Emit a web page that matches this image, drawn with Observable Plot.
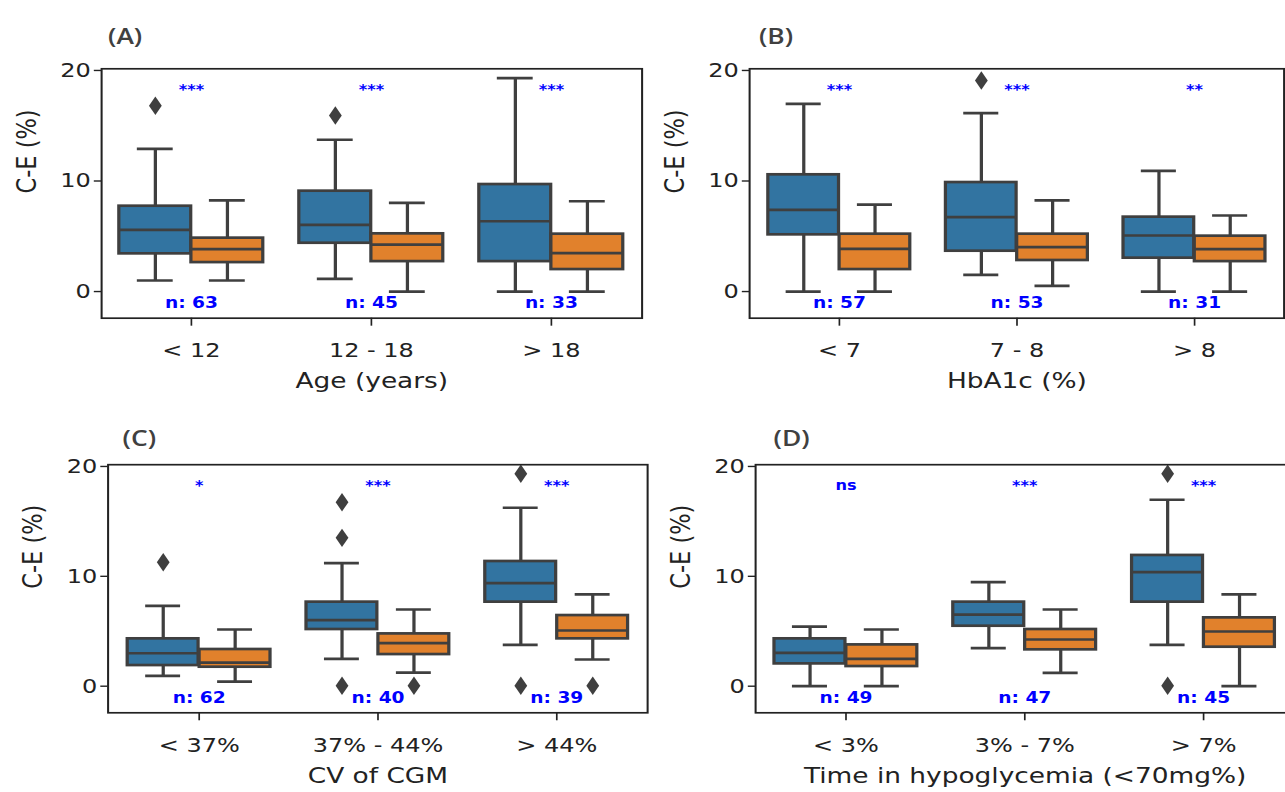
<!DOCTYPE html>
<html><head><meta charset="utf-8">
<script src="https://cdn.jsdelivr.net/npm/d3@7"></script>
<script src="https://cdn.jsdelivr.net/npm/@observablehq/plot@0.6"></script>
<style>
html,body{margin:0;padding:0;background:#fff;width:1285px;height:792px;overflow:hidden;}
#root{position:relative;width:1285px;height:792px;overflow:hidden;background:#fff;}
.panel{position:absolute;transform-origin:0 0;}
</style></head><body>
<div id="root"></div>
<script>
// ---- data (five-number summaries per category: [low whisker, Q1, median, Q3, high whisker]) ----
const ageCategories = ["< 12", "12 - 18", "> 18"];
const ageBlue   = [[1.0, 3.41, 5.58, 7.72, 12.9], [1.15, 4.37, 6.03, 9.08, 13.73], [0, 2.71, 6.36, 9.68, 19.3]];
const ageOrange = [[1.0, 2.62, 3.83, 4.83, 8.24], [0, 2.71, 4.25, 5.22, 8.02], [0, 1.99, 3.47, 5.19, 8.17]];
const ageBlueOutliers = [["< 12", 16.8], ["12 - 18", 15.93]];
const ageOrangeOutliers = [];
const ageSig = ["***", "***", "***"];
const ageN = [63, 45, 33];

const hba1cCategories = ["< 7", "7 - 8", "> 8"];
const hba1cBlue   = [[0, 5.13, 7.39, 10.56, 16.98], [1.51, 3.65, 6.73, 9.86, 16.14], [0, 3.02, 5.07, 6.73, 10.92]];
const hba1cOrange = [[0, 1.99, 3.86, 5.19, 7.87], [0.51, 2.81, 4.01, 5.19, 8.24], [0, 2.71, 3.83, 5.01, 6.88]];
const hba1cBlueOutliers = [["7 - 8", 19.1]];
const hba1cOrangeOutliers = [];
const hba1cSig = ["***", "***", "**"];
const hba1cN = [57, 53, 31];

const cvCategories = ["< 37%", "37% - 44%", "> 44%"];
const cvBlue   = [[0.94, 1.88, 3.0, 4.31, 7.31], [2.49, 5.16, 6.01, 7.65, 11.2], [3.76, 7.65, 9.38, 11.35, 16.24]];
const cvOrange = [[0.42, 1.73, 2.15, 3.34, 5.16], [1.24, 2.88, 3.92, 4.76, 6.98], [2.43, 4.31, 5.07, 6.43, 8.35]];
const cvBlueOutliers = [["< 37%", 11.29], ["37% - 44%", 16.75], ["37% - 44%", 13.5], ["37% - 44%", 0.05], ["> 44%", 19.33], ["> 44%", 0.05]];
const cvOrangeOutliers = [["37% - 44%", 0.05], ["> 44%", 0.05]];
const cvSig = ["*", "***", "***"];
const cvN = [62, 40, 39];

const hypoCategories = ["< 3%", "3% - 7%", "> 7%"];
const hypoBlue   = [[0, 2.03, 3.03, 4.31, 5.43], [3.46, 5.46, 6.52, 7.65, 9.47], [3.76, 7.65, 10.38, 11.9, 16.97]];
const hypoOrange = [[0, 1.79, 2.49, 3.76, 5.16], [1.21, 3.31, 4.25, 5.16, 6.98], [0, 3.55, 4.98, 6.22, 8.35]];
const hypoBlueOutliers = [["> 7%", 19.33], ["> 7%", 0.05]];
const hypoOrangeOutliers = [];
const hypoSig = ["ns", "***", "***"];
const hypoN = [49, 47, 45];

const yTicks = [0, 10, 20];
const yLabel = "C-E (%)";

// ---- style ----
const S = 1.2;               // the reference figure is stretched horizontally
const BLUE = "#3274a1", ORANGE = "#e1812c", LINE = "#3f3f3f", TEXT = "#222222";
const LW = 2.7;

function drawPanel(cfg) {
  const {cats, blue, orange, blueOut, orangeOut, sig, n, xLabel, tag, tagDx, tagDy,
         left, top, width, height, mL, mR, mT, mB, yDomain} = cfg;
  const W = (width - mL - mR) / cats.length;
  const rowsB = cats.map((c, i) => ({cat: c, s: blue[i]}));
  const rowsO = cats.map((c, i) => ({cat: c, s: orange[i]}));
  const box = (data, side, fill) => {
    const inL = side < 0 ? 0.1 * W : 0.5 * W, inR = side < 0 ? 0.5 * W : 0.1 * W;
    const cL = side < 0 ? 0.2 * W : 0.6 * W, cR = side < 0 ? 0.6 * W : 0.2 * W;
    const dx = side * 0.2 * W;
    const st = {stroke: LINE, strokeWidth: LW};
    return [
      Plot.ruleX(data, {x: "cat", y1: d => d.s[0], y2: d => d.s[1], dx, ...st}),
      Plot.ruleX(data, {x: "cat", y1: d => d.s[3], y2: d => d.s[4], dx, ...st}),
      Plot.tickY(data, {x: "cat", y: d => d.s[0], insetLeft: cL, insetRight: cR, ...st}),
      Plot.tickY(data, {x: "cat", y: d => d.s[4], insetLeft: cL, insetRight: cR, ...st}),
      Plot.barY(data, {x: "cat", y1: d => d.s[1], y2: d => d.s[3], insetLeft: inL, insetRight: inR, fill, ...st}),
      Plot.tickY(data, {x: "cat", y: d => d.s[2], insetLeft: inL, insetRight: inR, ...st})
    ];
  };
  const ann = cats.map((c, i) => ({cat: c, sig: sig[i], n: "n: " + n[i]}));
  const chart = Plot.plot({
    width, height, marginLeft: mL, marginRight: mR, marginTop: mT, marginBottom: mB,
    x: {type: "band", domain: cats, padding: 0},
    y: {domain: yDomain},
    style: {fontFamily: "DejaVu Sans", fontSize: "20px", color: TEXT, background: "transparent", overflow: "visible"},
    marks: [
      ...box(rowsB, -1, BLUE),
      ...box(rowsO, 1, ORANGE),
      Plot.dot(blueOut, {x: d => d[0], y: d => d[1], dx: -0.2 * W, symbol: "diamond", r: 5.6, fill: LINE, stroke: "none"}),
      Plot.dot(orangeOut, {x: d => d[0], y: d => d[1], dx: 0.2 * W, symbol: "diamond", r: 5.6, fill: LINE, stroke: "none"}),
      Plot.text(ann, {x: "cat", text: "sig", frameAnchor: "top", dy: 16, fill: "blue", fontWeight: "bold", fontSize: 13.5}),
      Plot.text(ann, {x: "cat", text: "n", frameAnchor: "bottom", dy: -10, fill: "blue", fontWeight: "bold", fontSize: 15.5}),
      Plot.frame({stroke: TEXT, strokeWidth: 1.7}),
      Plot.axisX({tickSize: 8, tickPadding: 17, fontSize: 20, label: null, stroke: TEXT, strokeWidth: 1.4}),
      Plot.axisY({ticks: yTicks, tickSize: 6, tickPadding: 3, fontSize: 20, label: null, stroke: TEXT, strokeWidth: 1.4}),
      Plot.text([yLabel], {text: d => d, frameAnchor: "left", dx: -62, rotate: -90, fontSize: 22.5, fill: TEXT}),
      Plot.text([xLabel], {text: d => d, frameAnchor: "bottom", dy: 70, fontSize: 22, fill: TEXT}),
      Plot.text([tag], {text: d => d, frameAnchor: "top-left", textAnchor: "middle", dx: tagDx, dy: tagDy, fontFamily: "Open Sans", fontWeight: 600, fontSize: 22, fill: "#404040"})
    ]
  });
  const div = document.createElement("div");
  div.className = "panel";
  div.style.left = left + "px";
  div.style.top = top + "px";
  div.style.transform = `scaleX(${S})`;
  div.appendChild(chart);
  document.getElementById("root").appendChild(div);
}

drawPanel({cats: ageCategories, blue: ageBlue, orange: ageOrange, blueOut: ageBlueOutliers, orangeOut: ageOrangeOutliers,
  sig: ageSig, n: ageN, xLabel: "Age (years)", tag: "(A)", tagDx: 19.6, tagDy: -40,
  left: 0, top: 0, width: 537.6, height: 400, mL: 84.17, mR: 3, mT: 68.3, mB: 82.3, yDomain: [-2.41, 20.15]});
drawPanel({cats: hba1cCategories, blue: hba1cBlue, orange: hba1cOrange, blueOut: hba1cBlueOutliers, orangeOut: hba1cOrangeOutliers,
  sig: hba1cSig, n: hba1cN, xLabel: "HbA1c (%)", tag: "(B)", tagDx: 22, tagDy: -40,
  left: 648, top: 0, width: 532.6, height: 400, mL: 84.17, mR: 3, mT: 68.3, mB: 82.3, yDomain: [-2.41, 20.15]});
drawPanel({cats: cvCategories, blue: cvBlue, orange: cvOrange, blueOut: cvBlueOutliers, orangeOut: cvOrangeOutliers,
  sig: cvSig, n: cvN, xLabel: "CV of CGM", tag: "(C)", tagDx: 26, tagDy: -34,
  left: 0, top: 396, width: 542.2, height: 396, mL: 89.58, mR: 3, mT: 68.2, mB: 79.7, yDomain: [-2.42, 20.16]});
drawPanel({cats: hypoCategories, blue: hypoBlue, orange: hypoOrange, blueOut: hypoBlueOutliers, orangeOut: hypoOrangeOutliers,
  sig: hypoSig, n: hypoN, xLabel: "Time in hypoglycemia (<70mg%)", tag: "(D)", tagDx: 30, tagDy: -34,
  left: 648, top: 396, width: 541.4, height: 396, mL: 89.17, mR: 3, mT: 68.2, mB: 79.7, yDomain: [-2.42, 20.16]});
</script>
</body></html>
